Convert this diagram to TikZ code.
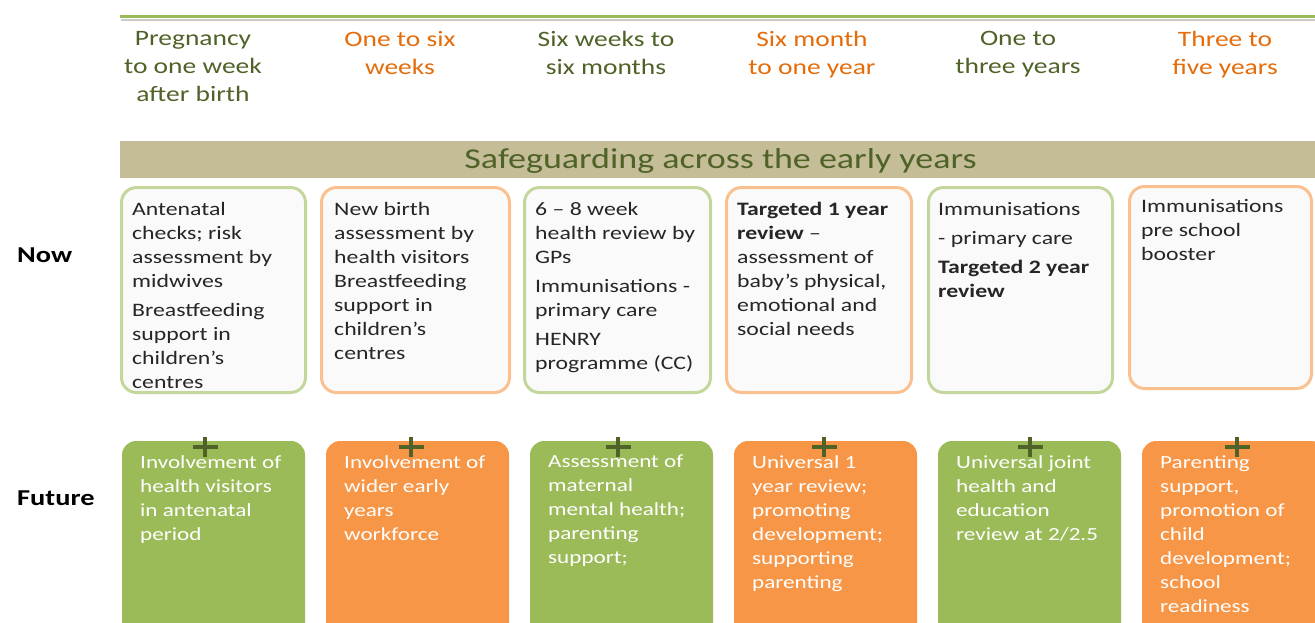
\documentclass[tikz,border=0pt]{standalone}
\usepackage{fontspec}
\setmainfont{Carlito}[FakeStretch=1.25]
\usetikzlibrary{positioning}
\definecolor{hdgreen}{HTML}{4F6228}
\definecolor{hdorange}{HTML}{E46C0A}
\definecolor{linegreen}{HTML}{9BBB59}
\definecolor{bandtan}{HTML}{C4BD97}
\definecolor{nowgreen}{HTML}{C3D69B}
\definecolor{noworange}{HTML}{FAC090}
\definecolor{futgreen}{HTML}{9BBB59}
\definecolor{futorange}{HTML}{F79646}
\definecolor{bodytext}{HTML}{262626}

\begin{document}
\begin{tikzpicture}[
      x = 1pt, y = -1pt,
      header/.style    = {anchor=north, inner sep=0pt, align=center, font=\fontsize{22}{28}\selectfont},
      band/.style      = {fill=bandtan, inner sep=0pt, minimum width=1195pt, minimum height=37pt},
      bandtext/.style  = {anchor=base, inner sep=0pt, text=hdgreen, font=\fontsize{28.8}{30}\selectfont},
      rowlabel/.style  = {anchor=base west, inner sep=0pt, font=\bfseries\fontsize{22.7}{26}\selectfont},
      nowbox/.style    = {draw=#1, line width=3pt, rounded corners=15pt, fill=white!98!black,
                          anchor=north west, inner sep=0pt, outer sep=0pt, minimum height=205pt},
      nowtext/.style   = {anchor=north west, inner sep=0pt, align=left, text=bodytext,
                          font=\fontsize{19}{24}\selectfont},
      futbox/.style    = {fill=#1, rounded corners=14pt, anchor=north west, inner sep=0pt, outer sep=0pt,
                          minimum width=183pt, minimum height=200pt},
      futtext/.style   = {anchor=north west, inner sep=0pt, align=left, text=white,
                          font=\fontsize{18.5}{24}\selectfont},
      plusbar/.style   = {draw=hdgreen, line width=4pt}
    ]
    \clip (0,0) rectangle (1315,622);

    % time line and age groups
    \draw[black!35, line width=2pt, opacity=.6] (121,19.5) -- (1315,19.5);
    \draw[linegreen, line width=3pt] (120,16) -- (1315,16);
    \node[header, text=hdgreen]  (age1) at (193,31)  {Pregnancy\\to one week\\after birth};
    \node[header, text=hdorange] (age2) at (400,31)  {One to six\\weeks};
    \node[header, text=hdgreen]  (age3) at (606,31)  {Six weeks to\\six months};
    \node[header, text=hdorange] (age4) at (812,31)  {Six month\\to one year};
    \node[header, text=hdgreen]  (age5) at (1018,31) {One to\\three years};
    \node[header, text=hdorange] (age6) at (1225,31) {Three to\\five years};

    \node[band] (safeguard) at (717.5,159.5) {};
    \node[bandtext] (safeguardtext) at (720.5,168.5) {Safeguarding across the early years};

    % now
    \node[rowlabel] (nowlabel) at (17,262) {Now};
    \node[nowbox=nowgreen,  minimum width=184pt] (now1) at (121.5,187.5) {};
    \node[nowbox=noworange, minimum width=188pt] (now2) at (321.5,187.5) {};
    \node[nowbox=nowgreen,  minimum width=186pt] (now3) at (524.5,187.5) {};
    \node[nowbox=noworange, minimum width=185pt] (now4) at (726.5,187.5) {};
    \node[nowbox=nowgreen,  minimum width=184pt] (now5) at (928.5,187.5) {};
    \node[nowbox=noworange, minimum width=182pt, minimum height=202pt] (now6) at (1129.5,186.5) {};

    \node[nowtext] (nowtext1) at ([shift={(10.5,14.5)}]now1.north west)
      {Antenatal\\checks; risk\\assessment by\\midwives\\[5pt]Breastfeeding\\support in\\children’s\\centres};
    \node[nowtext] (nowtext2) at ([shift={(12.5,14.5)}]now2.north west)
      {New birth\\assessment by\\health visitors\\Breastfeeding\\support in\\children’s\\centres};
    \node[nowtext] (nowtext3) at ([shift={(10.5,14.5)}]now3.north west)
      {6 – 8 week\\health review by\\GPs\\[5pt]Immunisations -\\primary care\\[5pt]HENRY\\programme (CC)};
    \node[nowtext] (nowtext4) at ([shift={(10.5,14.5)}]now4.north west)
      {\textbf{Targeted 1 year}\\\textbf{review} –\\assessment of\\baby’s physical,\\emotional and\\social needs};
    \node[nowtext] (nowtext5) at ([shift={(9.5,14.5)}]now5.north west)
      {Immunisations\\[5pt]- primary care\\[5pt]\textbf{Targeted 2 year}\\\textbf{review}};
    \node[nowtext] (nowtext6) at ([shift={(11.5,12.5)}]now6.north west)
      {Immunisations\\pre school\\booster};

    % future
    \node[rowlabel] (futlabel) at (17,505) {Future};
    \node[futbox=futgreen]  (fut1) at (122,441)  {};
    \node[futbox=futorange] (fut2) at (326,441)  {};
    \node[futbox=futgreen]  (fut3) at (530,441)  {};
    \node[futbox=futorange] (fut4) at (734,441)  {};
    \node[futbox=futgreen]  (fut5) at (938,441)  {};
    \node[futbox=futorange] (fut6) at (1142,441) {};

    \node[futtext] (futtext1) at ([shift={(18,14)}]fut1.north west)
      {Involvement of\\health visitors\\in antenatal\\period};
    \node[futtext] (futtext2) at ([shift={(18,14)}]fut2.north west)
      {Involvement of\\wider early\\years\\workforce};
    \node[futtext] (futtext3) at ([shift={(18,14)}]fut3.north west)
      {Assessment of\\maternal\\mental health;\\parenting\\support;};
    \node[futtext] (futtext4) at ([shift={(18,14)}]fut4.north west)
      {Universal 1\\year review;\\promoting\\development;\\supporting\\parenting};
    \node[futtext] (futtext5) at ([shift={(18,14)}]fut5.north west)
      {Universal joint\\health and\\education\\review at 2/2.5};
    \node[futtext] (futtext6) at ([shift={(18,14)}]fut6.north west)
      {Parenting\\support,\\promotion of\\child\\development;\\school\\readiness};

    % plus signs
    \foreach \px in {205,411,618,824,1030,1237}
      \draw[plusbar] (\px-12.5,447) -- (\px+12.5,447) (\px,437) -- (\px,457);
  \end{tikzpicture}
\end{document}
